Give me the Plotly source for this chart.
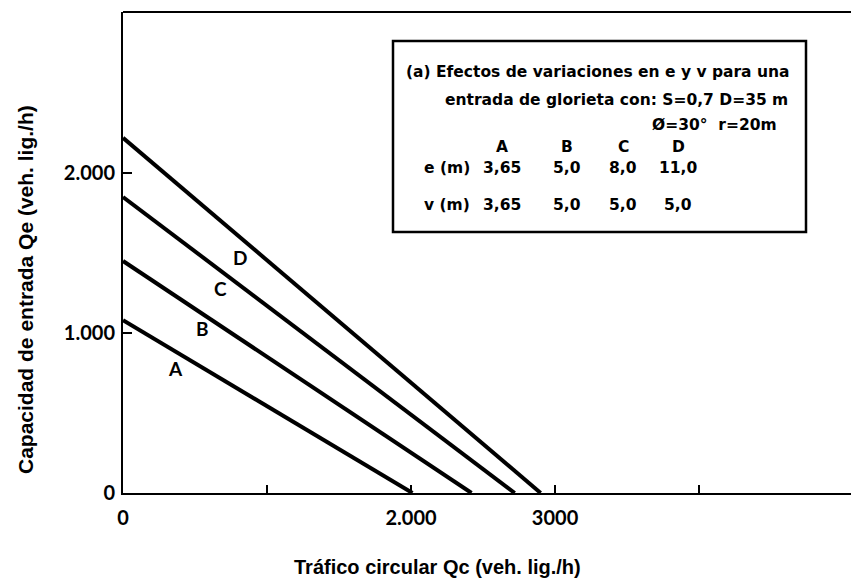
import plotly.graph_objects as go

# ---- data ----
curves = ["A", "B", "C", "D"]
entry_capacity_at_zero = [1080, 1450, 1850, 2220]   # Qe at Qc = 0 (veh. lig./h)
circ_traffic_at_zero = [2010, 2420, 2720, 2900]      # Qc at Qe = 0 (veh. lig./h)
e_values = ["3,65", "5,0", "8,0", "11,0"]
v_values = ["3,65", "5,0", "5,0", "5,0"]
x_tickvals = [0, 1000, 2000, 3000, 4000]
x_ticktext = ["0", "", "2.000", "3000", ""]
y_tickvals = [0, 1000, 2000]
y_ticktext = ["0", "1.000", "2.000"]

W, H = 851, 586
L, R, T, B = 123, 0, 12, 93
PW, PH = W - L - R, H - T - B
XMAX = 5055
YMAX = 3006


def px(xpix):
    return (xpix - L) / PW


def py(ypix):
    return (H - B - ypix) / PH


fig = go.Figure()
for name, q0, c0 in zip(curves, entry_capacity_at_zero, circ_traffic_at_zero):
    fig.add_trace(go.Scatter(x=[0, c0], y=[q0, 0], mode="lines",
                             line=dict(color="black", width=4),
                             name=name, showlegend=False, hoverinfo="skip"))

tickfont = dict(family="Lato", size=20, color="black", weight="bold")
fig.update_layout(
    width=W, height=H,
    margin=dict(l=L, r=R, t=T, b=B, pad=0),
    paper_bgcolor="white", plot_bgcolor="white",
    xaxis=dict(range=[0, XMAX], showgrid=False, zeroline=False,
               showline=True, linecolor="black", linewidth=2,
               ticks="inside", ticklen=8, tickwidth=2, tickcolor="black",
               tickvals=x_tickvals, ticktext=x_ticktext, tickfont=tickfont,
               ticklabelstandoff=6),
    yaxis=dict(range=[0, YMAX], showgrid=False, zeroline=False,
               showline=True, linecolor="black", linewidth=2,
               ticks="inside", ticklen=9, tickwidth=2, tickcolor="black",
               tickvals=y_tickvals, ticktext=y_ticktext, tickfont=tickfont,
               ticklabelstandoff=2),
)

# top border line of the plot frame
fig.add_shape(type="line", xref="paper", yref="paper", x0=0, x1=1, y0=1, y1=1,
              line=dict(color="black", width=2))

# curve labels
label_pos = {"D": (240, 257), "C": (220, 288), "B": (202, 328), "A": (175, 368)}
for name in curves:
    lx, ly = label_pos[name]
    fig.add_annotation(xref="paper", yref="paper", x=px(lx), y=py(ly), text=name,
                       showarrow=False,
                       font=dict(family="Lato", size=19, color="black", weight="bold"),
                       xanchor="center", yanchor="middle")

# axis titles
fig.add_annotation(xref="paper", yref="paper", x=px(437), y=py(567),
                   text="Tráfico circular Qc (veh. lig./h)", showarrow=False,
                   font=dict(family="Liberation Sans", size=20, color="black", weight="bold"),
                   xanchor="center", yanchor="middle")
fig.add_annotation(xref="paper", yref="paper", x=px(26), y=py(290),
                   text="Capacidad de entrada Qe (veh. lig./h)", showarrow=False,
                   textangle=-90,
                   font=dict(family="Liberation Sans", size=21, color="black", weight="bold"),
                   xanchor="center", yanchor="middle")

# inset box
fig.add_shape(type="rect", xref="paper", yref="paper",
              x0=px(393), x1=px(806), y0=py(232), y1=py(41),
              line=dict(color="black", width=2.5), fillcolor="rgba(0,0,0,0)")

boxfont = dict(family="DejaVu Sans", size=15.5, color="black", weight="bold")


def boxtext(text, xpix, ypix, anchor="left"):
    fig.add_annotation(xref="paper", yref="paper", x=px(xpix), y=py(ypix),
                       text=text, showarrow=False, font=boxfont,
                       xanchor=anchor, yanchor="middle")


boxtext("(a) Efectos de variaciones en e y v para una", 404, 72)
boxtext("entrada de glorieta con: S=0,7 D=35 m", 443, 100)
boxtext("Ø=30°  r=20m", 650, 125)
col_x = [502, 567, 623, 678]
for cx, name, ev, vv in zip(col_x, curves, e_values, v_values):
    boxtext(name, cx, 147, "center")
    boxtext(ev, cx, 168, "center")
    boxtext(vv, cx, 205, "center")
boxtext("e (m)", 472, 168, "right")
boxtext("v (m)", 472, 205, "right")

fig.write_html("out.html", config={"displayModeBar": False},
               post_script="document.body.style.margin='0';")
